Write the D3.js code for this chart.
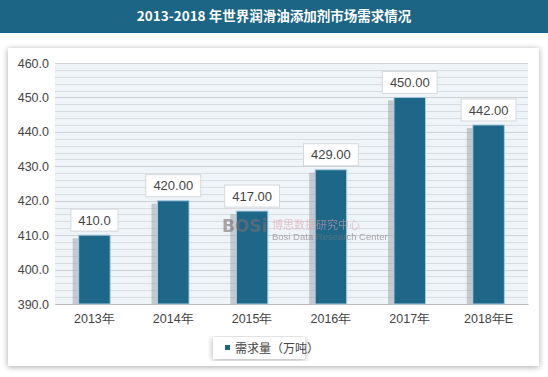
<!DOCTYPE html>
<html>
<head>
<meta charset="utf-8">
<script src="https://cdn.jsdelivr.net/npm/d3@7"></script>
<style>
  body { margin: 0; background: #fff; }
  svg { display: block; font-family: "Noto Sans CJK SC", "Liberation Sans", sans-serif; }
</style>
</head>
<body>
<svg id="chart"></svg>
<script>
// chart values
const years = ['2013年', '2014年', '2015年', '2016年', '2017年', '2018年E'];
const demand = [410.0, 420.0, 417.0, 429.0, 450.0, 442.0];
const labels = ['410.0', '420.00', '417.00', '429.00', '450.00', '442.00'];
const yTicks = [390, 400, 410, 420, 430, 440, 450, 460];
const seriesName = '需求量（万吨）';
const title = '2013-2018 年世界润滑油添加剂市场需求情况';

const W = 548, H = 377;
const margin = {top: 63, right: 20, bottom: 73, left: 55};
const width = W - margin.left - margin.right;
const height = H - margin.top - margin.bottom;

const svg = d3.select('#chart').attr('width', W).attr('height', H);

const defs = svg.append('defs');
const sh = defs.append('filter').attr('id', 'shadow').attr('x', '-5%').attr('y', '-5%').attr('width', '110%').attr('height', '110%');
sh.append('feGaussianBlur').attr('in', 'SourceAlpha').attr('stdDeviation', 3);
sh.append('feOffset').attr('dx', 0).attr('dy', 1).attr('result', 'b');
sh.append('feComponentTransfer').append('feFuncA').attr('type', 'linear').attr('slope', 0.35);
const m = sh.append('feMerge');
m.append('feMergeNode');
m.append('feMergeNode').attr('in', 'SourceGraphic');

// title bar
svg.append('rect').attr('width', W).attr('height', 33).attr('fill', '#1d6585');
svg.append('text')
    .attr('x', W / 2).attr('y', 21)
    .attr('text-anchor', 'middle')
    .attr('fill', '#fff')
    .style('font-size', '13.5px')
    .style('font-weight', 'bold')
    .text(title);

// white panel
svg.append('rect')
    .attr('x', 8).attr('y', 48).attr('width', 531).attr('height', 318)
    .attr('fill', '#fff')
    .attr('filter', 'url(#shadow)');

const chart = svg.append('g').attr('transform', `translate(${margin.left},${margin.top})`);

const x = d3.scaleBand().domain(years).range([0, width]).paddingInner(0.6).paddingOuter(0.3);
const y = d3.scaleLinear().domain([390, 460]).range([height, 0]);

// plot background
chart.append('rect').attr('width', width).attr('height', height).attr('fill', '#eff4f9');

// minor grid every 2 units
chart.append('g')
    .selectAll('line')
    .data(d3.range(390, 461, 2))
    .join('line')
    .attr('x1', 0).attr('x2', width)
    .attr('y1', d => Math.round(y(d)) + 0.5).attr('y2', d => Math.round(y(d)) + 0.5)
    .attr('stroke', d => d % 10 === 0 ? '#cdd2d7' : '#d8dde2')
    .attr('stroke-width', 1);

// y axis
const yAxis = d3.axisLeft(y).tickValues(yTicks).tickSize(0).tickPadding(6).tickFormat(d3.format('.1f'));
chart.append('g')
    .call(yAxis)
    .call(g => g.select('.domain').remove())
    .call(g => g.selectAll('text').attr('fill', '#444').style('font-size', '12.5px').style('font-family', '"Liberation Sans", Arial, sans-serif'));

// x axis
const xAxis = d3.axisBottom(x).tickSize(0).tickPadding(10);
chart.append('g')
    .attr('transform', `translate(0,${height})`)
    .call(xAxis)
    .call(g => g.select('.domain').attr('stroke', '#bbb'))
    .call(g => g.selectAll('text').attr('fill', '#444').style('font-size', '12.5px'));

// bar shadows
chart.selectAll('.bar-shadow')
    .data(demand)
    .join('rect')
    .attr('class', 'bar-shadow')
    .attr('x', (d, i) => x(years[i]) - 6)
    .attr('y', d => y(d) + 3)
    .attr('width', 8)
    .attr('height', d => height - y(d) - 3)
    .attr('fill', '#9aa0a6')
    .attr('opacity', 0.5);

// bars
chart.selectAll('.bar')
    .data(demand)
    .join('rect')
    .attr('class', 'bar')
    .attr('x', (d, i) => x(years[i]))
    .attr('y', d => y(d))
    .attr('width', x.bandwidth())
    .attr('height', d => height - y(d))
    .attr('fill', '#1e6788')
    .attr('stroke', '#a9cde0')
    .attr('stroke-width', 1);

// value labels
const lab = chart.selectAll('.val')
    .data(demand)
    .join('g')
    .attr('class', 'val')
    .attr('transform', (d, i) => `translate(${x(years[i]) + x.bandwidth() / 2},${y(d) - 15})`);
lab.append('rect')
    .attr('x', (d, i) => -(labels[i].length * 3.9 + 4))
    .attr('y', -11)
    .attr('width', (d, i) => labels[i].length * 7.8 + 8)
    .attr('height', 22)
    .attr('fill', '#fff')
    .attr('stroke', '#d6d9dc');
lab.append('text')
    .attr('text-anchor', 'middle')
    .attr('dy', '0.36em')
    .attr('fill', '#444')
    .style('font-size', '13px')
    .style('font-family', '"Liberation Sans", Arial, sans-serif')
    .text((d, i) => labels[i]);

// watermark
const wm = svg.append('g').attr('transform', 'translate(222,232)').attr('opacity', 0.6);
wm.append('text').attr('x', 0).attr('y', 0).attr('fill', '#7a6e72')
    .style('font-size', '17px').style('font-weight', 'bold').style('font-family', '"DejaVu Sans", sans-serif')
    .text('BOSi');
wm.append('text').attr('x', 50).attr('y', -3).attr('fill', '#d9a3ad')
    .style('font-size', '11px').text('博思数据研究中心');
wm.append('text').attr('x', 50).attr('y', 8).attr('fill', '#7c7478')
    .style('font-size', '9.5px').style('font-family', '"Liberation Sans", Arial, sans-serif')
    .text('Bosi Data Research Center');

// legend
const lg = svg.append('g').attr('transform', 'translate(213,337)');
lg.append('rect').attr('width', 92).attr('height', 22).attr('fill', '#fff').attr('filter', 'url(#shadow)');
lg.append('rect').attr('x', 12).attr('y', 8).attr('width', 5).attr('height', 5).attr('fill', '#1d6585');
lg.append('text').attr('x', 22).attr('y', 15.5).attr('fill', '#444').style('font-size', '12px').text(seriesName);
</script>
</body>
</html>
